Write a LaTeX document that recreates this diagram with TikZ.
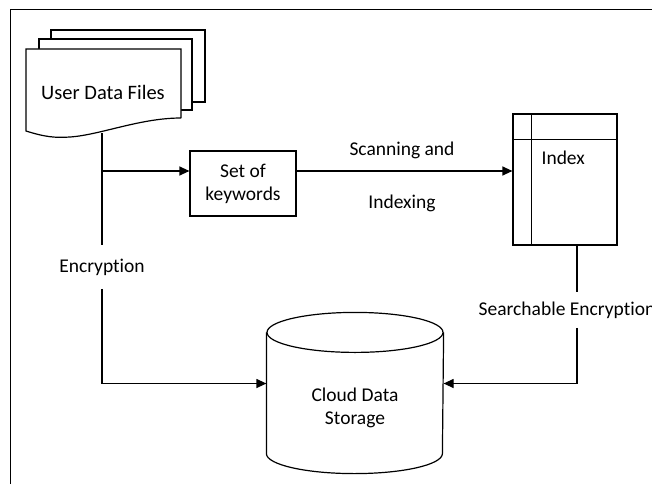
\documentclass[tikz,border=0pt]{standalone}
\usepackage{fontspec}
\setmainfont[Ligatures=CommonOff]{Carlito}
\usetikzlibrary{arrows.meta}

\begin{document}
\begin{tikzpicture}[x=1pt, y=1pt, line width=1.2pt,
        arr/.style={-{Triangle[length=10pt,width=9pt]}},
        lbl/.style={font=\fontsize{19.5}{23}\selectfont, align=center, inner sep=0pt},
        box/.style={draw, align=center, font=\fontsize{19.5}{23}\selectfont}]
        \clip (0,0) rectangle (652,-484);
        \draw[line width=0.9pt] (10,-484) -- (10,-9) -- (652,-9);

        % stack of user files
        \draw (51,-39) |- (205,-30) |- (192,-102);
        \draw (39,-49) |- (192,-39) |- (181,-110);
        \draw[fill=white] (181,-118) -- (181,-49) -- (26,-49) -- (26,-131)
            .. controls (45,-137) and (55,-138) .. (70,-137)
            .. controls (100,-135) and (140,-118) .. (181,-118);
        \node[lbl, font=\fontsize{20.5}{24}\selectfont] (files) at (103,-92) {User Data Files};
        \coordinate (filesout) at (102,-133);
        \coordinate (branch) at (102,-171);

        \node[box, minimum width=106pt, minimum height=65pt] (keywords) at (243,-183.5) {Set of\\keywords};

        % index table
        \node[draw, minimum width=104pt, minimum height=131pt] (index) at (565,-179.5) {};
        \draw ([xshift=19pt]index.north west) -- ([xshift=19pt]index.south west);
        \draw ([yshift=-26pt]index.north west) -- ([yshift=-26pt]index.north east);
        \node[lbl, anchor=west] (indexlbl) at (541,-158) {Index};
        \coordinate (idxout) at (577,-245);

        % cloud storage
        \node[minimum width=176pt, minimum height=160pt, inner sep=0pt] (storage) at (355,-393) {};
        \draw ([yshift=-20pt]storage.north west) -- ([yshift=20pt]storage.south west)
            arc[start angle=180, end angle=360, x radius=88pt, y radius=20pt]
            -- ([yshift=-20pt]storage.north east);
        \draw ([yshift=-20pt]storage.north) ellipse [x radius=88pt, y radius=20pt];
        \node[lbl] (storlbl) at (355,-407.5) {Cloud Data\\Storage};

        \node[lbl, inner ysep=13pt] (enclbl) at (102,-267) {Encryption};
        \node[lbl, inner ysep=9pt] (searchlbl) at (567,-310) {Searchable Encryption};
        \node[lbl] (scanlbl) at (402,-150) {Scanning and};
        \node[lbl] (indexinglbl) at (402,-203) {Indexing};

        \draw (filesout) -- (enclbl.north);
        \draw[arr] (branch) -- (branch -| keywords.west);
        \draw[arr] (keywords.east |- branch) -- (index.west |- branch);
        \draw[arr] (enclbl.south) |- ([yshift=9.5pt]storage.west);
        \draw (idxout) -- (idxout |- searchlbl.north);
        \draw[arr] (idxout |- searchlbl.south) |- ([yshift=9.5pt]storage.east);
    \end{tikzpicture}
\end{document}
